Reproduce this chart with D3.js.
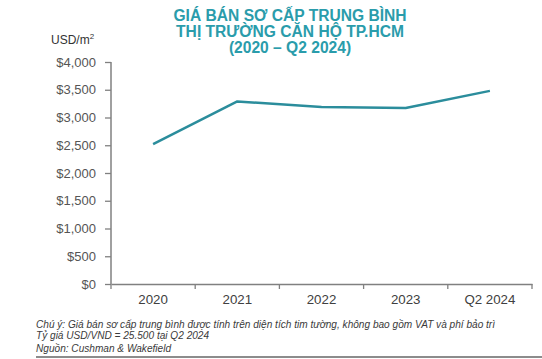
<!DOCTYPE html>
<html><head><meta charset="utf-8">
<script src="https://cdn.jsdelivr.net/npm/d3@7"></script>
<style>
html,body{margin:0;padding:0;background:#fff;}
svg{display:block;font-family:"Liberation Sans",Arial,sans-serif;}
</style></head>
<body><svg id="c" width="542" height="359"></svg>
<script>
const categories = ["2020", "2021", "2022", "2023", "Q2 2024"];
const prices = [2520, 3290, 3190, 3170, 3480];
const yTicks = [0, 500, 1000, 1500, 2000, 2500, 3000, 3500, 4000];
const titleLines = ["GIÁ BÁN SƠ CẤP TRUNG BÌNH", "THỊ TRƯỜNG CĂN HỘ TP.HCM", "(2020 – Q2 2024)"];
const notes = ["Chú ý: Giá bán sơ cấp trung bình được tính trên diện tích tim tường, không bao gồm VAT và phí bảo trì",
               "Tỷ giá USD/VND = 25.500 tại Q2 2024"];
const source = "Nguồn: Cushman & Wakefield";

const svg = d3.select("#c");
const x = d3.scaleBand().domain(categories).range([111, 532]);
const y = d3.scaleLinear().domain([0, 4000]).range([284, 62]);

// title
svg.append("g").selectAll("text").data(titleLines).join("text")
  .attr("x", 290).attr("y", (d, i) => 20.5 + i * 16)
  .attr("text-anchor", "middle").attr("font-size", 15.6).attr("font-weight", "bold")
  .attr("fill", "#2a9cab").text(d => d);

// unit
const u = svg.append("text").attr("x", 51).attr("y", 44).attr("font-size", 12).attr("fill", "#333");
u.append("tspan").text("USD/m");
u.append("tspan").attr("font-size", 8).attr("dy", -5).text("2");

// y axis
const yAxis = svg.append("g").attr("transform", "translate(111,0)")
  .call(d3.axisLeft(y).tickValues(yTicks).tickSize(6).tickPadding(9)
    .tickFormat(d => "$" + d3.format(",")(d)));
yAxis.select(".domain").attr("stroke", "#808080").attr("stroke-width", 1.5).attr("d", "M0,62V284");
yAxis.selectAll(".tick line").attr("stroke", "#808080").attr("stroke-width", 1.3);
yAxis.selectAll(".tick text").attr("font-size", 13).attr("fill", "#555").attr("font-family", "Liberation Sans,Arial,sans-serif");

// x axis
const xAxis = svg.append("g").attr("transform", "translate(0,284)")
  .call(d3.axisBottom(x).tickSize(0).tickPadding(11));
xAxis.select(".domain").attr("stroke", "#808080").attr("stroke-width", 1.5);
xAxis.selectAll(".tick text").attr("font-size", 13.3).attr("fill", "#404040").attr("font-family", "Liberation Sans,Arial,sans-serif");
const bounds = [x(categories[0])].concat(categories.map(c => x(c) + x.bandwidth()));
xAxis.selectAll(".bnd").data(bounds).join("line").attr("class", "bnd")
  .attr("x1", d => d).attr("x2", d => d).attr("y1", 0).attr("y2", 5)
  .attr("stroke", "#808080").attr("stroke-width", 1.3);

// line
const line = d3.line().x((d, i) => x(categories[i]) + x.bandwidth() / 2).y(d => y(d));
svg.append("path").datum(prices).attr("d", line)
  .attr("fill", "none").attr("stroke", "#2b8d9c").attr("stroke-width", 2.5)
  .attr("stroke-linejoin", "round");

// notes
svg.append("g").selectAll("text").data(notes).join("text")
  .attr("x", 36).attr("y", (d, i) => 328 + i * 11)
  .attr("font-size", 10.1).attr("font-style", "italic").attr("fill", "#3a3a3a").text(d => d);
svg.append("text").attr("x", 36).attr("y", 352).attr("font-size", 10.1)
  .attr("font-style", "italic").attr("fill", "#3a3a3a").text(source);
svg.append("line").attr("x1", 36).attr("x2", 542).attr("y1", 357).attr("y2", 357)
  .attr("stroke", "#666").attr("stroke-width", 1.5);
</script></body></html>
